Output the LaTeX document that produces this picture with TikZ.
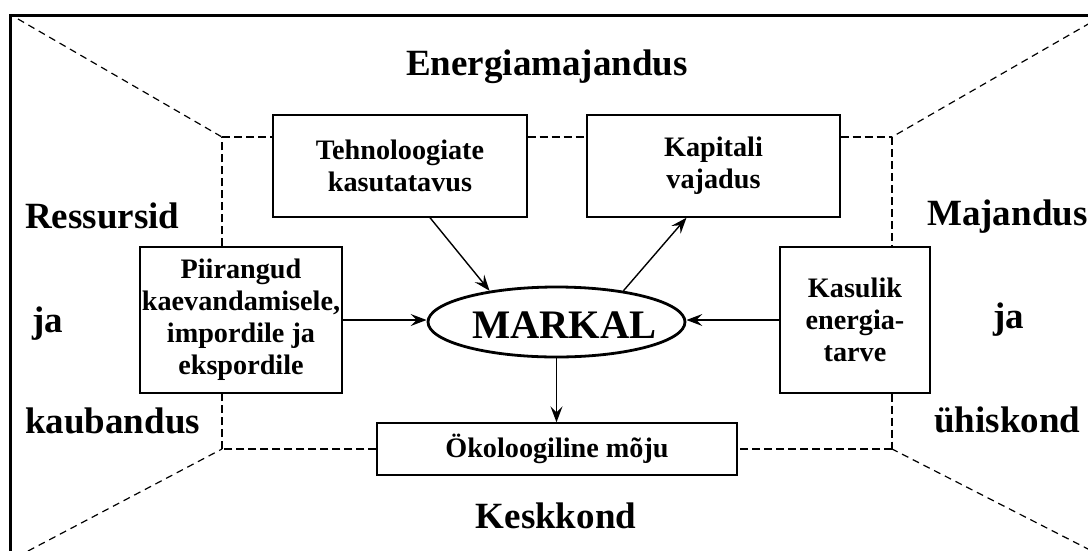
\documentclass[tikz,border=0pt]{standalone}
\usepackage{fontspec}
\setmainfont{Liberation Serif}
\usetikzlibrary{shapes.geometric,arrows.meta,calc}
\tikzset{
  boxnode/.style={draw, line width=1.4pt, inner sep=0pt, align=center,
    font=\bfseries\fontsize{28.2}{32}\selectfont},
  biglabel/.style={inner sep=0pt, font=\bfseries\fontsize{37}{40}\selectfont},
  arr/.style={line width=1.4pt, -{Stealth[length=16pt,width=12pt,inset=6pt]}},
  innerdash/.style={line width=1.7pt, dash pattern=on 8pt off 4pt},
  diagdash/.style={line width=1.2pt, dash pattern=on 7pt off 5pt},
  frameline/.style={line width=3pt},
}
\begin{document}
\begin{tikzpicture}[x=1pt,y=-1pt]
\useasboundingbox (0,0) rectangle (1088,550);
\begin{scope}
\clip (0,0) rectangle (1088,550);
% outer frame
\draw[frameline] (10,555) -- (10,15) -- (1095,15);

% inner dashed corners
\coordinate (c1) at (222,137);
\coordinate (c2) at (892,137);
\coordinate (c3) at (892,449);
\coordinate (c4) at (222,449);
\coordinate (o1) at (18,19);
\coordinate (o2) at (1090,23);
\coordinate (o3) at (28,551);
\coordinate (o4) at (1090,550);

% boxes
\node[boxnode, minimum width=254pt, minimum height=102pt] (tech) at (400,166) {Tehnoloogiate\\kasutatavus};
\node[boxnode, minimum width=253pt, minimum height=102pt] (kap) at (713.5,166) {Kapitali\\vajadus};
\node[boxnode, minimum width=202pt, minimum height=146pt] (piir) at (241,320) {Piirangud\\kaevandamisele,\\impordile ja\\ekspordile};
\node[boxnode, minimum width=150pt, minimum height=146pt] (kas) at (855,320) {Kasulik\\energia-\\tarve};
\node[boxnode, minimum width=360pt, minimum height=52pt] (oko) at (557,449) {Ökoloogiline mõju};
\node[draw, ellipse, line width=2.8pt, minimum width=257pt, minimum height=70pt, inner sep=0pt,
  font=\bfseries\fontsize{40.5}{44}\selectfont] (markal) at (556.5,322)
  {\rule{0pt}{33pt}\makebox[0pt][c]{\kern16pt MARKAL}};

% dashed inner rectangle
\draw[innerdash] (c1) -- (c1 -| tech.west);
\draw[innerdash] (c1 -| tech.east) -- (c1 -| kap.west);
\draw[innerdash] (c1 -| kap.east) -- (c2);
\draw[innerdash] (c2) -- (c2 |- kas.north);
\draw[innerdash] (c2 |- kas.south) -- (c3);
\draw[innerdash] (c3) -- (c3 -| oko.east);
\draw[innerdash] (c3 -| oko.west) -- (c4);
\draw[innerdash] (c4) -- (c4 |- piir.south);
\draw[innerdash] (c4 |- piir.north) -- (c1);

% diagonals
\draw[diagdash] (o1) -- (c1);
\draw[diagdash] (o2) -- (c2);
\draw[diagdash] (o3) -- (c4);
\draw[diagdash] (o4) -- (c3);

% arrows
\draw[arr] ([xshift=30pt]tech.south) -- (markal.155);
\draw[arr] (markal.25) -- ([xshift=-27pt]kap.south);
\draw[arr] (piir.east) -- (piir.east -| markal.west);
\draw[arr] (kas.west) -- (kas.west -| markal.east);
\draw[arr] (markal.south) -- (markal.south |- oko.north);

% labels
\node[biglabel, anchor=base] (energ) at (547,75) {Energiamajandus};
\node[biglabel, anchor=base] (keskk) at (556,528) {Keskkond};
\node[biglabel, anchor=base west] (ress) at (25,228) {Ressursid};
\node[biglabel, anchor=base west] (ja1) at (32,332) {ja};
\node[biglabel, anchor=base west] (kaub) at (25,433) {kaubandus};
\node[biglabel, anchor=base west] (maj) at (927,225) {Majandus};
\node[biglabel, anchor=base west] (ja2) at (993,328) {ja};
\node[biglabel, anchor=base west] (uhis) at (934,432) {ühiskond};
\end{scope}
\end{tikzpicture}
\end{document}
